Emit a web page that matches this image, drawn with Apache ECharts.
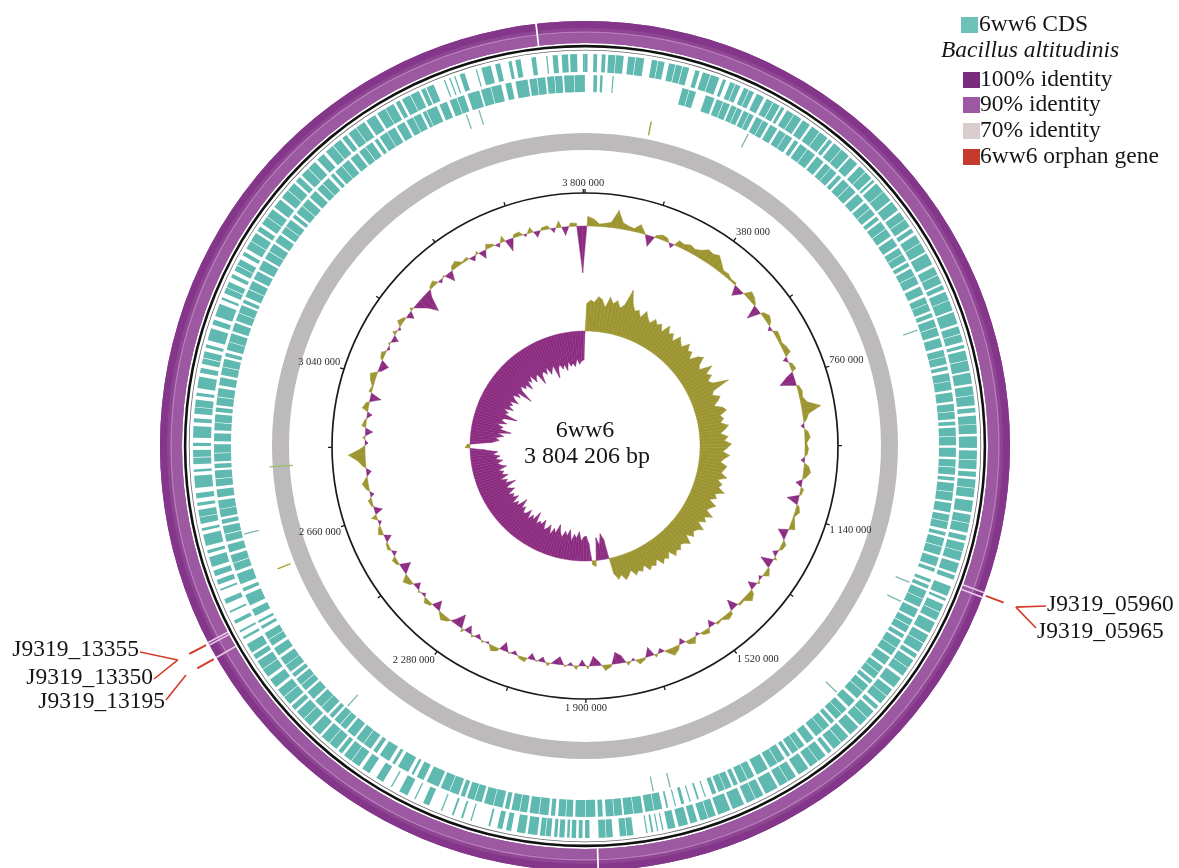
<!DOCTYPE html>
<html>
<head>
<meta charset="utf-8">
<script src="https://cdn.jsdelivr.net/npm/echarts@6/dist/echarts.min.js"></script>
<style>
  html, body { margin: 0; padding: 0; background: #ffffff; }
  #chart { width: 1179px; height: 868px; }
</style>
</head>
<body>
<div id="chart"></div>
<script>
// ---------------------------------------------------------------------------
// Genome data
// ---------------------------------------------------------------------------
const GENOME_LENGTH = 3804206;
const GENOME_NAME = '6ww6';
const REFERENCE_NAME = 'Bacillus altitudinis';

// CDS on the forward strand, [start, end] in kb
const cdsForward = [
  [0,4],[13,19],[26,32],[36,47],[48,60],[67,78],[79,92],[104,113],[114,124],[131,141],[142,152],[153,163],[173,180],
  [185,197],[198,212],[218,223],[230,238],[239,247],[253,261],[262,270],
  [275,287],[292,303],[304,315],[318,323],[328,340],[341,354],[357,370],[374,388],[389,404],[407,413],[417,431],
  [432,447],[450,465],[470,482],[483,496],[499,503],
  [507,523],[524,541],[544,560],[564,577],[578,591],[595,602],[607,621],[622,637],[640,659],[664,677],[678,692],
  [695,702],[706,720],[721,737],[740,759],[763,775],[776,788],
  [793,798],[802,817],[818,834],[837,854],[858,872],[873,888],[892,899],[904,917],[918,932],[936,954],[958,972],
  [973,987],[991,999],[1003,1016],[1017,1031],[1036,1054],
  [1058,1071],[1072,1086],[1091,1099],[1103,1116],[1117,1131],[1135,1151],[1155,1162],[1173,1189],[1193,1197],
  [1203,1216],[1217,1230],[1234,1252],
  [1256,1270],[1271,1286],[1290,1297],[1301,1315],[1316,1330],[1335,1353],[1357,1370],[1371,1385],[1390,1397],
  [1401,1415],[1416,1431],[1435,1452],[1456,1470],[1471,1486],[1490,1497],[1502,1516],[1517,1531],[1535,1553],
  [1558,1572],[1573,1587],
  [1591,1612],[1616,1629],[1630,1644],[1649,1668],[1672,1692],[1696,1708],[1709,1721],[1726,1737],[1741,1756],[1761,1773],
  [1780,1782],[1788,1790],[1796,1799],[1805,1807],
  [1827,1837],[1838,1848],[1859,1869],[1870,1881],[1895,1902],[1906,1912],[1916,1923],[1926,1930],[1934,1942],
  [1945,1950],[1955,1963],[1964,1972],[1976,1991],[1995,2008],[2017,2025],[2031,2039],[2050,2053],[2080,2082],
  [2094,2097],[2109,2112],[2128,2130],
  [2150,2160],[2173,2175],[2187,2201],[2214,2216],[2230,2242],[2255,2268],
  [2274,2288],[2289,2303],[2307,2314],[2318,2332],[2333,2348],[2352,2368],[2372,2386],[2387,2402],[2406,2414],
  [2418,2432],[2433,2447],[2452,2467],[2472,2486],[2487,2501],[2505,2513],[2517,2532],
  [2541,2545],[2553,2556],[2568,2574],[2587,2590],[2602,2610],[2624,2627],[2634,2642],
  [2648,2657],[2663,2679],[2685,2690],[2697,2715],[2721,2725],[2732,2742],[2743,2754],[2760,2765],[2772,2780],
  [2788,2807],[2813,2817],[2825,2835],[2836,2847],[2853,2858],[2866,2884],[2890,2896],[2903,2913],[2914,2925],
  [2931,2936],[2943,2961],[2967,2975],[2981,2990],[2991,3001],[3007,3012],[3019,3038],[3044,3052],[3058,3078],
  [3085,3089],[3096,3105],[3106,3115],[3122,3128],[3134,3143],[3144,3154],[3161,3167],
  [3173,3186],[3187,3201],[3205,3213],[3218,3231],[3232,3246],[3250,3265],[3269,3283],[3284,3298],[3302,3311],
  [3315,3329],[3330,3344],[3349,3362],[3367,3381],[3382,3396],[3400,3408],[3412,3426],[3427,3442],[3446,3462],
  [3466,3480],[3481,3495],[3499,3506],[3510,3524],[3525,3539],[3543,3550],
  [3552,3564],[3581,3583],[3590,3592],[3598,3600],[3607,3615],[3633,3635],[3642,3657],[3664,3672],[3685,3690],
  [3696,3704],[3721,3728],[3744,3746],[3754,3762],[3768,3778],[3781,3792],[3801,3804]
];

// CDS on the reverse strand, [start, end] in kb
const cdsReverse = [
  [14,20],[25,29],[45,47],[161,172],[173,184],[201,216],[220,231],[232,243],[246,255],[256,265],[268,277],[278,286],
  [291,302],[303,313],[317,330],[334,346],[347,359],[364,371],[375,389],[390,405],[409,423],[427,438],[439,451],
  [455,462],[466,480],[481,495],[499,514],[518,530],[531,543],
  [547,554],[558,572],[573,587],[591,606],[610,621],[622,634],[638,645],[649,662],[663,677],[682,696],[701,712],
  [713,725],[729,736],[740,753],[754,768],[772,787],
  [792,803],[804,816],[820,826],[831,844],[845,859],[863,878],[882,894],[895,907],[911,917],[921,935],[936,950],
  [954,969],[973,985],[986,998],[1002,1008],[1012,1026],[1027,1041],
  [1045,1060],[1064,1075],[1076,1088],[1093,1099],[1103,1117],[1118,1132],[1136,1151],[1155,1161],[1174,1179],
  [1184,1190],[1194,1208],[1209,1223],[1227,1242],
  [1246,1257],[1258,1270],[1274,1281],[1285,1299],[1300,1314],[1318,1333],[1337,1348],[1349,1361],[1365,1372],
  [1376,1389],[1390,1404],[1409,1423],[1428,1439],[1440,1452],
  [1456,1463],[1467,1480],[1481,1495],[1500,1514],[1519,1530],[1531,1543],[1547,1553],[1558,1571],[1572,1586],
  [1590,1610],[1615,1627],[1628,1641],[1645,1652],[1656,1667],[1668,1679],[1683,1690],
  [1701,1703],[1713,1716],[1727,1729],[1738,1743],[1752,1754],[1765,1768],
  [1775,1788],[1789,1803],[1807,1822],[1823,1838],[1841,1854],[1855,1868],[1873,1881],[1885,1901],[1902,1918],
  [1922,1933],[1934,1946],[1951,1958],[1962,1977],[1978,1993],[1997,2009],[2010,2023],
  [2027,2034],[2038,2053],[2054,2069],[2073,2085],[2086,2098],[2102,2109],[2113,2128],[2129,2144],[2148,2169],
  [2175,2187],[2193,2197],[2203,2222],[2228,2233],[2239,2257],[2263,2270],
  [2275,2289],[2290,2304],[2308,2323],[2327,2338],[2339,2351],[2355,2362],[2366,2380],[2381,2395],[2399,2414],
  [2418,2429],[2430,2442],[2446,2453],[2457,2470],[2471,2485],[2490,2504],[2509,2520],[2521,2533],
  [2541,2546],[2552,2556],[2565,2577],[2584,2603],[2609,2615],[2622,2640],
  [2645,2658],[2659,2672],[2677,2690],[2695,2707],[2708,2721],[2725,2732],[2736,2749],[2750,2764],[2769,2782],
  [2787,2799],[2800,2813],[2817,2824],[2828,2841],[2842,2856],
  [2861,2874],[2879,2891],[2892,2905],[2909,2916],[2920,2933],[2934,2948],[2953,2966],[2970,2983],[2984,2997],
  [3001,3007],[3012,3025],[3026,3040],[3044,3058],
  [3062,3075],[3076,3089],[3093,3099],[3104,3117],[3118,3132],[3136,3150],[3154,3170],
  [3174,3187],[3188,3202],[3206,3220],[3224,3236],[3237,3250],[3255,3261],[3265,3279],[3280,3294],[3298,3312],
  [3316,3328],[3329,3342],[3347,3353],[3357,3371],[3372,3386],
  [3390,3404],[3408,3420],[3421,3434],[3439,3445],[3449,3463],[3464,3478],[3482,3496],[3500,3512],[3513,3526],[3530,3536],
  [3537,3555],[3560,3573],[3578,3590],[3591,3603],[3609,3629],[3632,3648],[3649,3666],[3673,3683],[3690,3710],
  [3713,3725],[3726,3739],[3742,3754],[3755,3767],
  [3770,3786],[3787,3804]
];

// rRNA / tRNA loci (kb)
const rnaGenes = [292, 748, 1192, 1228, 1420, 1754, 1784, 2350, 2700, 3596, 3619];
// other annotated features (kb)
const miscFeatures = [122, 2623];
// feature crossing the 70 % identity ring (kb)
const ringFeatures = [2813];

// unmatched stretches in the Bacillus altitudinis BLAST ring, [start, end] in kb
const blastGaps = [[3733, 3735.5], [1882, 1884.5]];

// orphan genes of 6ww6, positions in kb
const orphanGenes = [
  { tag: 'J9319_05960', start: 1163.0, end: 1165.5 },
  { tag: 'J9319_05965', start: 1170.0, end: 1172.5 },
  { tag: 'J9319_13195', start: 2536.5, end: 2539.0 },
  { tag: 'J9319_13350', start: 2557.0, end: 2559.5 },
  { tag: 'J9319_13355', start: 2561.0, end: 2563.5 }
];

// GC content, deviation from the genome average (%), 240 equal windows
const gcContent = [
  1.6,1.2,0.4,0.6,0.9,3.0,1.1,0.7,0.5,1.4,0.2,-1.8,0.4,0.8,0.6,-0.7,1.0,0.8,1.2,0.9,
  1.3,2.0,1.8,2.2,1.4,0.6,0.7,0.3,0.4,-1.6,-0.4,1.2,0.9,0.3,-2.2,0.5,1.0,0.6,-0.6,0.7,
  0.6,0.4,0.8,1.0,-0.7,0.5,0.8,-1.2,-2.6,0.4,0.7,0.5,1.1,3.2,1.0,0.5,-0.5,0.6,0.9,0.3,
  0.6,0.4,-0.6,0.8,1.2,0.5,-1.0,0.5,0.3,-1.9,0.4,0.8,0.2,0.6,1.0,-1.6,-0.4,0.7,0.5,-0.8,
  0.5,-2.0,0.3,0.9,-0.5,0.4,-1.3,0.7,1.3,0.3,0.4,-1.7,0.6,0.9,0.2,0.4,-1.1,0.8,0.5,-0.5,
  1.0,0.6,-0.9,0.7,1.3,0.4,-0.7,0.5,-1.5,0.3,0.8,-0.4,0.6,-1.2,-1.9,0.4,0.9,-0.6,-1.6,0.5,
  -1.0,0.6,-0.5,0.3,-1.3,-0.4,0.5,-0.8,0.2,-1.0,0.7,0.4,-0.6,0.2,-1.4,0.5,0.9,-0.3,0.3,-0.7,
  0.4,-1.2,0.6,-2.2,-0.6,0.5,1.0,0.2,-1.5,0.4,0.8,-0.5,0.3,-1.0,0.6,1.2,-0.3,-1.7,0.4,0.7,
  -0.7,0.5,0.3,-1.1,0.8,0.4,-0.5,0.9,-1.3,0.3,0.6,-0.6,0.5,1.0,0.2,-0.8,0.5,1.3,2.8,0.8,
  -0.5,0.4,-1.2,0.7,0.3,-0.8,1.0,0.5,-1.8,0.5,0.2,0.8,1.1,-0.6,-1.4,0.4,0.7,-0.4,0.3,-1.0,
  0.6,-0.4,0.9,0.4,-1.1,0.5,-0.7,-1.8,-3.4,-1.0,0.4,0.8,-0.5,0.3,-1.6,0.6,1.0,0.2,0.5,-0.8,
  0.5,-1.3,0.8,0.4,-0.6,1.0,-2.0,0.5,0.7,-0.4,0.9,-1.0,0.4,0.6,-0.7,1.1,-1.4,0.6,0.5,-7.8
];

// GC skew (G-C)/(G+C), same 240 windows
const gcSkew = [
  0.055,0.062,0.058,0.07,0.065,0.05,0.072,0.06,0.068,0.055,0.063,0.096,0.07,0.058,0.062,0.05,0.066,0.055,0.048,0.06,
  0.052,0.058,0.045,0.064,0.05,0.056,0.043,0.06,0.052,0.047,0.062,0.05,0.055,0.041,0.058,0.066,0.05,0.045,0.07,0.052,
  0.06,0.048,0.055,0.086,0.05,0.044,0.058,0.051,0.04,0.056,0.062,0.047,0.053,0.045,0.06,0.052,0.042,0.057,0.049,0.063,
  0.055,0.046,0.06,0.05,0.043,0.057,0.052,0.048,0.061,0.044,0.055,0.05,0.064,0.047,0.053,0.041,0.058,0.05,0.045,0.062,
  0.048,0.055,0.042,0.06,0.05,0.046,0.053,0.039,0.057,0.049,0.044,0.052,0.047,0.055,0.04,0.05,0.045,0.053,0.038,0.048,
  0.044,0.05,0.036,0.046,0.041,0.048,0.035,0.043,0.05,0.038,0.045,0.032,
  -0.04,-0.052,-0.03,-0.045,0.012,0.008,-0.035,-0.05,
  -0.048,-0.04,-0.058,-0.045,-0.052,-0.038,-0.06,-0.047,-0.055,-0.042,-0.05,-0.065,-0.046,-0.054,-0.04,-0.058,-0.049,-0.044,-0.062,-0.051,
  -0.055,-0.047,-0.07,-0.05,-0.058,-0.045,-0.063,-0.052,-0.048,-0.06,-0.054,-0.072,-0.05,-0.057,-0.046,-0.064,-0.053,-0.059,-0.049,-0.066,
  -0.058,-0.052,-0.075,-0.055,-0.061,-0.048,-0.066,-0.054,-0.06,-0.05,-0.068,-0.057,-0.052,-0.063,-0.049,-0.059,-0.045,-0.055,-0.03,0.01,
  0.006,-0.045,-0.058,-0.05,-0.066,-0.054,-0.08,-0.056,-0.062,-0.049,-0.067,-0.055,-0.06,-0.085,-0.057,-0.063,-0.052,-0.07,-0.058,-0.064,
  -0.056,-0.072,-0.06,-0.054,-0.068,-0.058,-0.09,-0.062,-0.055,-0.066,-0.06,-0.075,-0.057,-0.064,-0.052,-0.07,-0.061,-0.058,-0.082,-0.063,
  -0.06,-0.068,-0.055,-0.072,-0.064,-0.058,-0.085,-0.066,-0.06,-0.07,-0.062,-0.075,-0.058,-0.068,-0.063,-0.07,-0.055,-0.066,-0.06,-0.058
];

// labelled positions on the coordinate ring (bp)
const tickValues = [380000, 760000, 1140000, 1520000, 1900000, 2280000, 2660000, 3040000, 3800000];

// legend entries
const legendTitle = '6ww6 CDS';
const legendEntries = ['100% identity', '90% identity', '70% identity', '6ww6 orphan gene'];

// ---------------------------------------------------------------------------
// Layout and styling
// ---------------------------------------------------------------------------
const CENTER = [585, 446];
const SERIF = '"Liberation Serif", "Times New Roman", serif';
const COLORS = {
  cds: '#60b9b0',
  rna: '#7cb7b0',
  misc: '#a8a23c',
  ringFeature: '#93c262',
  blastDark: '#84368a',
  blastMid: '#8f4594',
  blastLight: '#9d58a2',
  blastLine: '#b680b9',
  orphanNotch: '#e6c6e6',
  identity70: '#bdbabc',
  gcPos: '#9d9531',
  gcNeg: '#8b2c80',
  skewPos: '#9d9531',
  skewNeg: '#8b2c80',
  leader: '#d23c28',
  text: '#161616'
};
// track radii in pixels (radius axis of the track ring is in px)
const TRACK = {
  blast: [403, 425], blastInner: [403, 413], blastLine: [413.2, 414.6],
  outline: [398.6, 401.2], outlineThin: [395.4, 396.2],
  forward: [374, 392], reverse: [354, 371],
  rna: [337, 352], misc: [317, 331], identity70: [296, 313], ringFeature: [293, 316],
  leaderStart: 428, leaderEnd: 447, leaderJoint: 460
};
const leaderGroups = [
  { genes: ['J9319_05960', 'J9319_05965'], labels: [
      { tag: 'J9319_05960', x: 1047, y: 605, align: 'left', lineY: 606 },
      { tag: 'J9319_05965', x: 1037, y: 632, align: 'left', lineY: 628 } ] },
  { genes: ['J9319_13350', 'J9319_13355'], labels: [
      { tag: 'J9319_13355', x: 139, y: 650, align: 'right', lineY: 652 },
      { tag: 'J9319_13350', x: 153, y: 678, align: 'right', lineY: 679 } ] },
  { genes: ['J9319_13195'], labels: [
      { tag: 'J9319_13195', x: 165, y: 702, align: 'right', lineY: 700 } ] }
];

// ---------------------------------------------------------------------------
// Helpers working through the polar coordinate systems
// ---------------------------------------------------------------------------
function geom(api, params, r, pos) {
  const p = api.coord([r, pos]);
  const cs = params.coordSys;
  return { ang: Math.atan2(p[1] - cs.cy, p[0] - cs.cx), rad: Math.hypot(p[0] - cs.cx, p[1] - cs.cy) };
}
function arc(api, params, radii, startBp, endBp) {
  const cs = params.coordSys;
  const inner = geom(api, params, radii[0], startBp);
  const outer = geom(api, params, radii[1], startBp);
  let sa = outer.ang, ea;
  if (endBp - startBp >= GENOME_LENGTH) {
    ea = sa + Math.PI * 2;
  } else {
    ea = geom(api, params, radii[1], endBp).ang;
    while (ea <= sa) ea += Math.PI * 2;
  }
  return { cx: cs.cx, cy: cs.cy, r0: inner.rad, r: outer.rad, startAngle: sa, endAngle: ea, clockwise: true };
}
function sector(api, params, radii, startBp, endBp, fill) {
  return { type: 'sector', shape: arc(api, params, radii, startBp, endBp), style: { fill: fill } };
}
function tick(api, params, radii, pos, color, width) {
  const a = api.coord([radii[0], pos]), b = api.coord([radii[1], pos]);
  return { type: 'line', shape: { x1: a[0], y1: a[1], x2: b[0], y2: b[1] }, style: { stroke: color, lineWidth: width } };
}
function formatBp(v) {
  return String(v).replace(/\B(?=(\d{3})+(?!\d))/g, ' ');
}

// area track drawn from the 0 baseline of its own radius axis
function areaTrack(values, posColor, negColor) {
  const w = GENOME_LENGTH / values.length;
  return function (params, api) {
    const i = params.dataIndex;
    const v0 = values[i], v1 = values[(i + 1) % values.length];
    const a0 = (i + 0.5) * w, a1 = (i + 1.5) * w;
    const piece = (p, q, va, vb, color) => ({
      type: 'polygon',
      shape: { points: [api.coord([0, p]), api.coord([va, p]), api.coord([vb, q]), api.coord([0, q])] },
      style: { fill: color, stroke: color, lineWidth: 0.4 }
    });
    const out = [];
    if (v0 * v1 >= 0) {
      out.push(piece(a0, a1, v0, v1, (v0 + v1) >= 0 ? posColor : negColor));
    } else {
      const t = v0 / (v0 - v1);
      const ac = a0 + t * (a1 - a0);
      out.push(piece(a0, ac, v0, 0, v0 > 0 ? posColor : negColor));
      out.push(piece(ac, a1, 0, v1, v1 > 0 ? posColor : negColor));
    }
    return { type: 'group', children: out };
  };
}

// ---------------------------------------------------------------------------
// Chart
// ---------------------------------------------------------------------------
const chart = echarts.init(document.getElementById('chart'), null, { renderer: 'canvas' });

const hiddenAngle = (idx) => ({
  polarIndex: idx, type: 'value', min: 0, max: GENOME_LENGTH, startAngle: 90, clockwise: true,
  axisLine: { show: false }, axisTick: { show: false }, axisLabel: { show: false }, splitLine: { show: false }
});
const hiddenRadius = (idx, min, max) => ({
  polarIndex: idx, type: 'value', min: min, max: max,
  axisLine: { show: false }, axisTick: { show: false }, axisLabel: { show: false }, splitLine: { show: false }, splitArea: { show: false }
});

const option = {
  backgroundColor: '#ffffff',
  animation: false,
  polar: [
    { center: CENTER, radius: [0, 253] },    // coordinate ring
    { center: CENTER, radius: [0, 440] },    // feature tracks (px)
    { center: CENTER, radius: [160, 250] },  // GC content
    { center: CENTER, radius: [40, 165] }    // GC skew
  ],
  angleAxis: [
    {
      polarIndex: 0, type: 'value', min: 0, max: GENOME_LENGTH, interval: 190000,
      startAngle: 90, clockwise: true, z: 10,
      axisLine: { show: true, lineStyle: { color: '#1a1a1a', width: 1.7 } },
      axisTick: { show: true, length: 4, lineStyle: { color: '#1a1a1a', width: 1.3 } },
      axisLabel: {
        show: true, margin: 4, color: '#2a2a2a', fontFamily: SERIF, fontSize: 10.5,
        formatter: (v) => tickValues.indexOf(v) >= 0 ? formatBp(v) : ''
      },
      splitLine: { show: false }
    },
    hiddenAngle(1), hiddenAngle(2), hiddenAngle(3)
  ],
  radiusAxis: [
    hiddenRadius(0, 0, 253),
    hiddenRadius(1, 0, 440),
    hiddenRadius(2, -10, 5),
    hiddenRadius(3, -0.15, 0.10)
  ],
  series: [
    // Bacillus altitudinis BLAST ring
    {
      type: 'custom', coordinateSystem: 'polar', polarIndex: 1, silent: true, z: 1,
      data: [[0, GENOME_LENGTH]],
      renderItem: (params, api) => ({
        type: 'group', children: [
          sector(api, params, TRACK.blast, 0, GENOME_LENGTH, COLORS.blastMid),
          sector(api, params, [418, 425], 0, GENOME_LENGTH, COLORS.blastDark),
          sector(api, params, TRACK.blastInner, 0, GENOME_LENGTH, COLORS.blastLight),
          sector(api, params, TRACK.blastLine, 0, GENOME_LENGTH, COLORS.blastLine),
          sector(api, params, TRACK.outline, 0, GENOME_LENGTH, '#111111'),
          sector(api, params, TRACK.outlineThin, 0, GENOME_LENGTH, '#6a6a6a')
        ]
      })
    },
    // gaps in the BLAST ring
    {
      type: 'custom', coordinateSystem: 'polar', polarIndex: 1, silent: true, z: 1,
      data: blastGaps,
      renderItem: (params, api) => sector(api, params, [402, 426], api.value(0) * 1000, api.value(1) * 1000, '#ffffff')
    },
    // orphan genes missing from the reference
    {
      type: 'custom', coordinateSystem: 'polar', polarIndex: 1, silent: true, z: 1,
      data: orphanGenes.map(g => [g.start, g.end]),
      renderItem: (params, api) => sector(api, params, [402.5, 425.5], api.value(0) * 1000, api.value(1) * 1000, COLORS.orphanNotch)
    },
    // forward CDS
    {
      type: 'custom', coordinateSystem: 'polar', polarIndex: 1, silent: true, z: 1,
      data: cdsForward,
      renderItem: (params, api) => sector(api, params, TRACK.forward, api.value(0) * 1000, api.value(1) * 1000, COLORS.cds)
    },
    // reverse CDS
    {
      type: 'custom', coordinateSystem: 'polar', polarIndex: 1, silent: true, z: 1,
      data: cdsReverse,
      renderItem: (params, api) => sector(api, params, TRACK.reverse, api.value(0) * 1000, api.value(1) * 1000, COLORS.cds)
    },
    // RNA genes
    {
      type: 'custom', coordinateSystem: 'polar', polarIndex: 1, silent: true, z: 1,
      data: rnaGenes.map(v => [v]),
      renderItem: (params, api) => tick(api, params, TRACK.rna, api.value(0) * 1000, COLORS.rna, 1.3)
    },
    // other features
    {
      type: 'custom', coordinateSystem: 'polar', polarIndex: 1, silent: true, z: 1,
      data: miscFeatures.map(v => [v]),
      renderItem: (params, api) => tick(api, params, TRACK.misc, api.value(0) * 1000, COLORS.misc, 1.4)
    },
    // 70 % identity ring
    {
      type: 'custom', coordinateSystem: 'polar', polarIndex: 1, silent: true, z: 1,
      data: [[0, GENOME_LENGTH]],
      renderItem: (params, api) => sector(api, params, TRACK.identity70, 0, GENOME_LENGTH, COLORS.identity70)
    },
    {
      type: 'custom', coordinateSystem: 'polar', polarIndex: 1, silent: true, z: 1,
      data: ringFeatures.map(v => [v]),
      renderItem: (params, api) => tick(api, params, TRACK.ringFeature, api.value(0) * 1000, COLORS.ringFeature, 1.3)
    },
    // GC content
    {
      type: 'custom', coordinateSystem: 'polar', polarIndex: 2, silent: true, z: 1,
      data: gcContent.map((v, i) => [v, i]),
      renderItem: areaTrack(gcContent, COLORS.gcPos, COLORS.gcNeg)
    },
    // GC skew
    {
      type: 'custom', coordinateSystem: 'polar', polarIndex: 3, silent: true, z: 1,
      data: gcSkew.map((v, i) => [v, i]),
      renderItem: areaTrack(gcSkew, COLORS.skewPos, COLORS.skewNeg)
    },
    // orphan gene call-outs
    {
      type: 'custom', coordinateSystem: 'polar', polarIndex: 1, silent: true, z: 3,
      data: leaderGroups.map((g, i) => [i]),
      renderItem: (params, api) => {
        const group = leaderGroups[params.dataIndex];
        const genes = orphanGenes.filter(g => group.genes.indexOf(g.tag) >= 0);
        const mid = genes.reduce((s, g) => s + (g.start + g.end) / 2, 0) / genes.length * 1000;
        const a = api.coord([TRACK.leaderStart, mid]);
        const b = api.coord([TRACK.leaderEnd, mid]);
        const j = api.coord([TRACK.leaderJoint, mid]);
        const children = [
          { type: 'line', shape: { x1: a[0], y1: a[1], x2: b[0], y2: b[1] }, style: { stroke: COLORS.leader, lineWidth: 2 } }
        ];
        group.labels.forEach(l => {
          const ex = l.align === 'left' ? l.x - 1 : l.x + 1;
          children.push({ type: 'line', shape: { x1: j[0], y1: j[1], x2: ex, y2: l.lineY }, style: { stroke: COLORS.leader, lineWidth: 1.6 } });
          children.push({ type: 'text', style: {
            text: l.tag, x: l.x, y: l.y, align: l.align, verticalAlign: 'middle',
            fontFamily: SERIF, fontSize: 23.5, fill: COLORS.text } });
        });
        return { type: 'group', children: children };
      }
    }
  ],
  graphic: [
    // genome name and size
    { type: 'text', x: CENTER[0], y: 431, silent: true,
      style: { text: GENOME_NAME, align: 'center', verticalAlign: 'middle', fontFamily: SERIF, fontSize: 24, fill: COLORS.text } },
    { type: 'text', x: CENTER[0] + 2, y: 457, silent: true,
      style: { text: formatBp(GENOME_LENGTH) + ' bp', align: 'center', verticalAlign: 'middle', fontFamily: SERIF, fontSize: 24, fill: COLORS.text } },
    // legend
    { type: 'rect', shape: { x: 961, y: 17, width: 17, height: 16 }, style: { fill: '#6cc1b9' }, silent: true },
    { type: 'text', x: 979, y: 25, silent: true,
      style: { text: legendTitle, align: 'left', verticalAlign: 'middle', fontFamily: SERIF, fontSize: 23.5, fill: COLORS.text } },
    { type: 'text', x: 1030, y: 51, silent: true,
      style: { text: REFERENCE_NAME, align: 'center', verticalAlign: 'middle', fontFamily: SERIF, fontSize: 23.5, fontStyle: 'italic', fill: COLORS.text } },
    { type: 'rect', shape: { x: 963, y: 72, width: 17, height: 16 }, style: { fill: '#7a2b7b' }, silent: true },
    { type: 'text', x: 980, y: 80, silent: true,
      style: { text: legendEntries[0], align: 'left', verticalAlign: 'middle', fontFamily: SERIF, fontSize: 23.5, fill: COLORS.text } },
    { type: 'rect', shape: { x: 963, y: 97, width: 17, height: 16 }, style: { fill: '#9d58a3' }, silent: true },
    { type: 'text', x: 980, y: 105, silent: true,
      style: { text: legendEntries[1], align: 'left', verticalAlign: 'middle', fontFamily: SERIF, fontSize: 23.5, fill: COLORS.text } },
    { type: 'rect', shape: { x: 963, y: 123, width: 17, height: 16 }, style: { fill: '#d9cdcd' }, silent: true },
    { type: 'text', x: 980, y: 131, silent: true,
      style: { text: legendEntries[2], align: 'left', verticalAlign: 'middle', fontFamily: SERIF, fontSize: 23.5, fill: COLORS.text } },
    { type: 'rect', shape: { x: 963, y: 149, width: 17, height: 16 }, style: { fill: '#c63a2c' }, silent: true },
    { type: 'text', x: 980, y: 157, silent: true,
      style: { text: legendEntries[3], align: 'left', verticalAlign: 'middle', fontFamily: SERIF, fontSize: 23.5, fill: COLORS.text } }
  ]
};

chart.setOption(option);
</script>
</body>
</html>
